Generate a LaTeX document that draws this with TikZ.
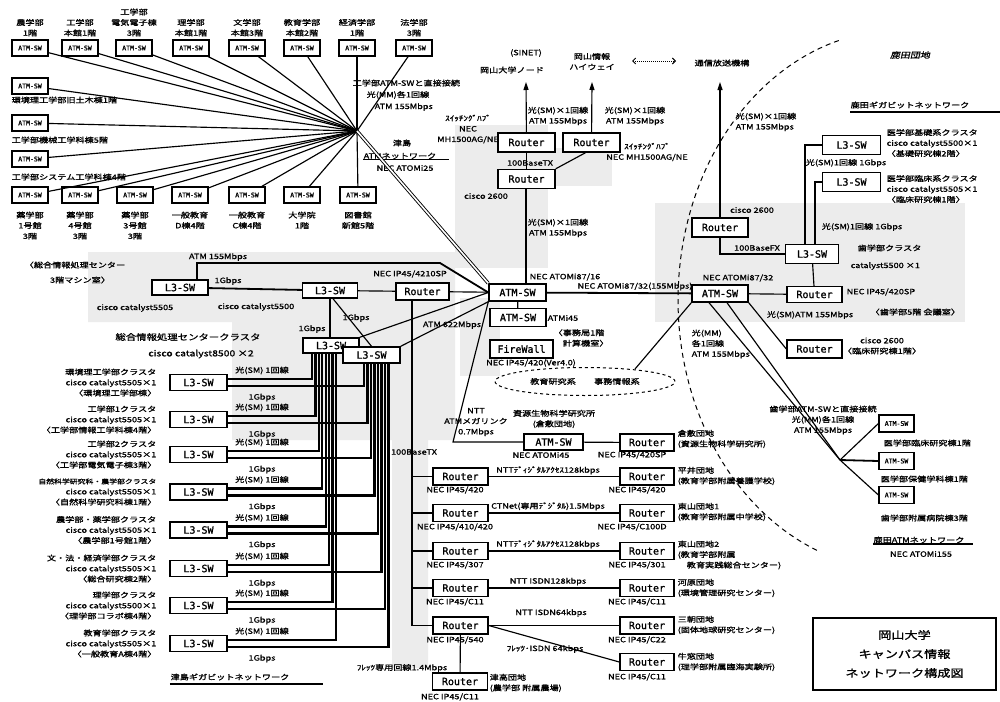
\documentclass[tikz,border=0pt]{standalone}
\usepackage{fontspec}
\setmainfont{Noto Sans CJK JP}
\newfontfamily\jpf{Noto Sans CJK JP}[FakeStretch=1.25,FakeBold=1.3]
\newfontfamily\jpif{Noto Sans CJK JP}[FakeStretch=1.25,FakeSlant=0.22,FakeBold=1.3]
\newfontfamily\monof{DejaVu Sans Mono}[FakeBold=1.2]
\usetikzlibrary{shapes.geometric,arrows.meta}
\newcommand\lblf{\jpf\fontsize{7.3}{10.5}\selectfont}
\newcommand\boxf{\monof\fontsize{10}{11}\selectfont}
\newcommand\sboxf{\monof\fontsize{6.5}{7}\selectfont}
\newcommand\ttlf{\jpf\fontsize{10.5}{19}\selectfont}
\begin{document}
\begin{tikzpicture}[x=1pt,y=-1pt,
  bx/.style={draw,line width=1.4pt,fill=white,font=\boxf,inner sep=0pt,minimum width=#1,minimum height=17pt},
  bx/.default=56pt,
  sb/.style={draw,line width=1.2pt,fill=white,font=\sboxf,inner sep=0pt,minimum width=36pt,minimum height=16pt},
  lb/.style={font=\lblf,inner sep=0.5pt,align=center},
  lbl/.style={lb,align=left,anchor=west},
  lbr/.style={lb,align=right,anchor=east},
  ln/.style={line width=1.15pt},
  thk/.style={line width=2.2pt},
  shd/.style={fill=gray!15}]
\fill[white] (0,0) rectangle (1000,701);
\useasboundingbox (0,0) rectangle (1000,701);
% shaded areas
\fill[shd] (88,252) -- (455,252) -- (455,440) -- (428,440) -- (428,668) -- (392,668) -- (392,440) -- (232,440) -- (232,322) -- (88,322) -- cycle;
\fill[shd] (455,125) rectangle (548,268);
\fill[shd] (548,148) rectangle (612,186);
\fill[shd] (460,298) rectangle (500,376);
\fill[shd] (655,203) rectangle (965,322);

% ---------- Tsushima ATM network (top left)
\foreach \i/\x in {1/30,2/80,3/134,4/191,5/247,6/302,7/357,8/414} {\node[sb] (t\i) at (\x,48) {ATM-SW};}
\node[sb] (l1) at (30,86) {ATM-SW};
\node[sb] (l2) at (30,123) {ATM-SW};
\node[sb] (l3) at (30,159) {ATM-SW};
\foreach \i/\x in {1/30,2/80,3/135,4/190,5/247,6/302,7/358} {\node[sb] (b\i) at (\x,195) {ATM-SW};}
\coordinate (hub) at (357,131);
\foreach \n in {t1,t2,t3,t4,t5,t6,t7,t8,l1,l2,l3,b1,b2,b3,b4,b5,b6,b7} {\draw[ln] (\n) -- (hub);}
\node[lb,anchor=south] (tl1) at (30,37) {農学部\\1階};
\node[lb,anchor=south] (tl2) at (80,37) {工学部\\本館1階};
\node[lb,anchor=south] (tl3) at (134,37) {工学部\\電気電子棟\\3階};
\node[lb,anchor=south] (tl4) at (191,37) {理学部\\本館1階};
\node[lb,anchor=south] (tl5) at (247,37) {文学部\\本館3階};
\node[lb,anchor=south] (tl6) at (302,37) {教育学部\\本館2階};
\node[lb,anchor=south] (tl7) at (357,37) {経済学部\\1階};
\node[lb,anchor=south] (tl8) at (414,37) {法学部\\3階};
\node[lbl] (ll1) at (11,100) {環境理工学部旧土木棟1階};
\node[lbl] (ll2) at (11,140) {工学部機械工学科棟5階};
\node[lbl] (ll3) at (11,177) {工学部システム工学科棟4階};
\node[lb,anchor=north] (bl1) at (30,211) {薬学部\\1号館\\3階};
\node[lb,anchor=north] (bl2) at (80,211) {薬学部\\4号館\\3階};
\node[lb,anchor=north] (bl3) at (135,211) {薬学部\\3号館\\3階};
\node[lb,anchor=north] (bl4) at (190,211) {一般教育\\D棟4階};
\node[lb,anchor=north] (bl5) at (247,211) {一般教育\\C棟4階};
\node[lb,anchor=north] (bl6) at (302,211) {大学院\\1階};
\node[lb,anchor=north] (bl7) at (358,211) {図書館\\新館5階};
\node[lbl] (hl1) at (352,83) {工学部ATM-SWと直接接続};
\node[lbl] (hl2) at (366,95) {光(MM)各1回線};
\node[lbl] (hl3) at (374,107) {ATM 155Mbps};
\node[lb] (tsa) at (402,143) {津島};
\node[lb] (tsb) at (400,156) {ATMネットワーク};
\node[lb] (tsc) at (405,168) {NEC ATOMi25};
\draw[ln] (tsb.south west) -- ([xshift=12pt]tsb.south east);

% ---------- centre
\node[bx=57pt] (atm) at (517.5,292.5) {ATM-SW};
\node[bx=56pt,minimum height=18pt] (atm2) at (518,317.5) {ATM-SW};
\node[bx=63pt,minimum height=18pt] (fw) at (521.5,349) {FireWall};
\node[bx=57pt,minimum height=19pt] (rt1) at (526.5,142.5) {Router};
\node[bx=57pt,minimum height=19pt] (rt2) at (591.5,142.5) {Router};
\node[bx=57pt,minimum height=19pt] (rt3) at (526.5,179) {Router};
\node[bx=56pt,minimum height=19pt] (rtr) at (720,227.5) {Router};
\draw[double,double distance=1.6pt,line width=0.9pt] (hub) -- (atm.north west);
\coordinate (sinet) at (526,82);
\coordinate (hwy) at (592,82);
\coordinate (tao) at (720,82);
\draw[ln,-{Triangle[length=8pt,width=5pt]}] (rt1) -- (sinet);
\draw[ln,-{Triangle[length=8pt,width=5pt]}] (rt2) -- (hwy);
\draw[ln,-{Triangle[length=8pt,width=5pt]}] (rtr) -- (tao);
\node[lb] (sn1) at (526,53) {(SINET)};
\node[lb] (sn2) at (512,70) {岡山大学ノード};
\node[lb] (hw1) at (592,61.5) {岡山情報\\ハイウェイ};
\node[lb] (tao1) at (722,63) {通信放送機構};
\coordinate (dl) at (632,61);
\coordinate (dr) at (676,61);
\draw[densely dotted,line width=1pt,{Straight Barb[length=3pt]}-{Straight Barb[length=3pt]}] (dl) -- (dr);
\draw[ln] (rt1) -- (rt3);
\draw[ln] ([xshift=-6pt]rt2.south) -- (rt3.north east);
\draw[ln] (rt3.south -| 526,0) -- (atm.north -| 526,0);
\node[lb] (r1a) at (558,116) {光(SM)×1回線\\ATM 155Mbps};
\node[lb] (r2a) at (635,116) {光(SM)×1回線\\ATM 155Mbps};
\node[lb] (r1b) at (468,129) {ｽｲｯﾁﾝｸﾞﾊﾌﾞ\\NEC\\MH1500AG/NE};
\node[lb] (r2b) at (647,152) {ｽｲｯﾁﾝｸﾞﾊﾌﾞ\\NEC MH1500AG/NE};
\node[lb] (r3a) at (530,163) {100BaseTX};
\node[lb] (r3b) at (486,196) {cisco 2600};
\node[lb] (r3c) at (558,228) {光(SM)×1回線\\ATM 155Mbps};
\node[lb] (atl) at (565,277) {NEC ATOMi87/16};
\draw[ln] (atm) -- (atm2);
\node[lbl] (a2l) at (547,318) {ATMi45};
\node[lbl] (a2m) at (553,338) {〈事務局1階\\　計算機室〉};
\node[lb] (fwl) at (531,363) {NEC IP45/420(Ver4.0)};
\node[draw,dashed,line width=1pt,ellipse,minimum width=180pt,minimum height=28pt,inner sep=0pt,font=\lblf] (ell) at (585,381.5) {教育研究系\hspace{2.5em}事務情報系};
\coordinate (ellc) at (635,369);

% right ATM
\node[bx=56pt] (atmr) at (720,293.5) {ATM-SW};
\draw[line width=1.8pt] (atm) -- (atmr);
\node[lb,anchor=south] (lk1) at (635,291) {NEC ATOMi87/32(155Mbps)};
\node[lb] (atrl) at (738,278) {NEC ATOMi87/32};
\draw[ln] (atmr.south west) -- (ellc);

% ---------- Shikata (right)
\node[bx=55pt,minimum height=16pt] (rrt) at (814.5,294.5) {Router};
\node[bx=55pt,minimum height=18pt] (rrl) at (814.5,349) {Router};
\node[bx=53pt,minimum height=19pt] (sw3) at (812,254) {L3-SW};
\node[bx=58pt,minimum height=19pt] (sw1) at (851.5,145) {L3-SW};
\node[bx=58pt,minimum height=19pt] (sw2) at (851.5,182) {L3-SW};
\draw[thk] ([xshift=-7pt]sw3.north) |- (sw1.west);
\draw[thk] ([xshift=3pt]sw3.north) |- (sw2.west);
\draw[ln] (rtr.south) |- (sw3.west);
\draw[ln] (sw3) -- (rrt);
\draw[ln] (atmr) -- (rrt);
\draw[ln] (atmr.south east) -- (rrl.west);
\node[lb] (fx) at (757,248) {100BaseFX};
\node[lb] (ctr) at (752,210) {cisco 2600};
\node[lbl] (tl) at (735,122) {光(SM)×1回線\\ATM 155Mbps};
\node[lb,font=\jpif\fontsize{8}{10}\selectfont] (shk) at (910,55) {鹿田団地};
\node[lb] (gig) at (910,105) {鹿田ギガビットネットワーク};
\coordinate (gigend) at (1000,112);
\draw[line width=1.3pt] (gig.south west |- gigend) -- (gigend);
\node[lbl] (s1l) at (886,143) {医学部基礎系クラスタ\\cisco catalyst5500×1\\〈基礎研究棟2階〉};
\node[lbl] (s2l) at (886,189) {医学部臨床系クラスタ\\cisco catalyst5505×1\\〈臨床研究棟1階〉};
\node[lb] (s1g) at (846,163) {光(SM)1回線 1Gbps};
\node[lb] (s2g) at (862,227) {光(SM)1回線 1Gbps};
\node[lbl] (s3l) at (857,248) {歯学部クラスタ};
\node[lbl] (s3m) at (850,266) {catalyst5500 ×1};
\node[lbl] (rrtl) at (846,292) {NEC IP45/420SP};
\node[lbl] (rrtm) at (870,312) {〈歯学部5階 会議室〉};
\node[lb] (rrll) at (882,346) {cisco 2600\\〈臨床研究棟1階〉};
\node[lb] (rrla) at (810,315) {光(SM)ATM 155Mbps};
\node[lbl] (mml) at (691,344) {光(MM)\\各1回線\\ATM 155Mbps};
\draw[dash pattern=on 5pt off 4pt,line width=1pt] plot[domain=112:255,samples=70] ({900+222*cos(\x)},{300+270*sin(\x)});

% Shikata ATM
\coordinate (jn) at (840,460);
\node[sb,minimum width=35pt,minimum height=17pt] (ma1) at (896.5,423.5) {ATM-SW};
\node[sb,minimum width=35pt,minimum height=17pt] (ma2) at (896.5,461) {ATM-SW};
\node[sb,minimum width=35pt,minimum height=17pt] (ma3) at (896.5,495) {ATM-SW};
\draw[ln] ([xshift=-11pt]atmr.south) -- (jn);
\draw[ln] ([xshift=7pt]atmr.south) -- (jn);
\draw[ln] (jn) -- (ma1.west);
\draw[line width=1.8pt] (jn) -- (ma2.west);
\draw[ln] (jn) -- (ma3.west);
\node[lb] (dir) at (823,420) {歯学部ATM-SWと直接接続\\光(MM)各1回線\\ATM 155Mbps};
\node[lbl] (m1l) at (883,443) {医学部臨床研究棟1階};
\node[lbl] (m2l) at (880,479) {医学部保健学科棟1階};
\node[lbl] (m3l) at (880,518) {歯学部附属病院棟3階};
\node[lb] (san) at (919,540) {鹿田ATMネットワーク};
\draw[ln] (san.south west) -- ([xshift=8pt]san.south east);
\node[lb] (sanm) at (921,554) {NEC ATOMi155};

% title
\node[draw,line width=1.2pt,minimum width=183pt,minimum height=72pt,font=\ttlf,align=center] (title) at (904.5,654) {岡山大学\\キャンパス情報\\ネットワーク構成図};

% ---------- Kurashiki & remote sites
\coordinate (kc) at (453,442);
\node[bx=59pt,minimum height=16pt] (katm) at (553.5,442) {ATM-SW};
\node[bx=54pt] (krt) at (647,442.5) {Router};
\draw[ln] (atm.south west) -- (kc) -- (katm);
\draw[ln] (katm) -- (krt);
\node[lb] (kl1) at (476,422) {NTT\\ATMメガリンク\\0.7Mbps};
\node[lb] (kl2) at (554,419) {資源生物科学研究所\\(倉敷団地)};
\node[lb] (kl3) at (541,455) {NEC ATOMi45};
\node[lb] (kl4) at (632,455) {NEC IP45/420SP};
\node[lbl] (kl5) at (677,439) {倉敷団地\\(資源生物科学研究所)};

\node[bx=53pt] (rte) at (422.5,291.5) {Router};
\draw[ln] (rte) -- (atm);
\coordinate (busend) at (412,626);
\draw[ln] (rte.south -| busend) -- (busend);
\node[lb] (btx) at (414,452) {100BaseTX};

\node[bx=55pt] (lr1) at (460.5,476.5) {Router};
\node[bx=55pt] (lr2) at (460.5,513) {Router};
\node[bx=55pt] (lr3) at (460.5,551) {Router};
\node[bx=55pt] (lr4) at (460.5,588) {Router};
\node[bx=55pt] (lr5) at (460.5,625.5) {Router};
\node[bx=55pt] (br) at (460,681.5) {Router};
\node[bx=54pt] (rr1) at (647,476.5) {Router};
\node[bx=54pt] (rr2) at (647,513) {Router};
\node[bx=54pt] (rr3) at (647,551) {Router};
\node[bx=54pt] (rr4) at (647,588) {Router};
\node[bx=54pt] (rr5) at (647,625.5) {Router};
\node[bx=54pt] (rr6) at (647,662) {Router};
\foreach \i in {1,2,3,4,5} {\draw[ln] (lr\i.west -| busend) -- (lr\i.west);}
\draw[line width=1.7pt] (lr1) -- (rr1);
\draw[line width=1.7pt] (lr2) -- (rr2);
\draw[ln] (lr3) -- (rr3);
\draw[ln] (lr4) -- (rr4);
\draw[ln] (lr5) -- (rr5);
\draw[ln] (lr5.east) -- (rr6.west);
\draw[ln] (lr5) -- (br);
\node[lb,anchor=south] (k1) at (548,475) {NTTﾃﾞｨｼﾞﾀﾙｱｸｾｽ128kbps};
\node[lb,anchor=south] (k2) at (548,511) {CTNet(専用ﾃﾞｼﾞﾀﾙ)1.5Mbps};
\node[lb,anchor=south] (k3) at (548,549) {NTTﾃﾞｨｼﾞﾀﾙｱｸｾｽ128kbps};
\node[lb,anchor=south] (k4) at (548,586) {NTT ISDN128kbps};
\node[lb] (k5) at (551,613) {NTT ISDN64kbps};
\node[lb] (k6) at (545,649) {ﾌﾚｯﾂ･ISDN 64kbps};
\node[lb] (k7) at (402,668) {ﾌﾚｯﾂ専用回線1.4Mbps};
\node[lb] (q1) at (455,490) {NEC IP45/420};
\node[lb] (q2) at (455,527) {NEC IP45/410/420};
\node[lb] (q3) at (455,565) {NEC IP45/307};
\node[lb] (q4) at (455,602) {NEC IP45/C11};
\node[lb] (q5) at (455,640) {NEC IP45/540};
\node[lb] (q6) at (450,697) {NEC IP45/C11};
\node[lb] (p1) at (637,490) {NEC IP45/420};
\node[lb] (p2) at (632,527) {NEC IP45/C100D};
\node[lb] (p3) at (637,565) {NEC IP45/301};
\node[lb] (p4) at (637,602) {NEC IP45/C11};
\node[lb] (p5) at (637,640) {NEC IP45/C22};
\node[lb] (p6) at (637,677) {NEC IP45/C11};
\node[lbl] (g1) at (677,476) {平井団地\\(教育学部附属養護学校)};
\node[lbl] (g2) at (677,512) {東山団地1\\(教育学部附属中学校)};
\node[lbl] (g3) at (677,555) {東山団地2\\(教育学部附属\\　教育実践総合センター)};
\node[lbl] (g4) at (677,588) {河原団地\\(環境管理研究センター)};
\node[lbl] (g5) at (677,625) {三朝団地\\(固体地球研究センター)};
\node[lbl] (g6) at (677,662) {牛窓団地\\(理学部附属臨海実験所)};
\node[lbl] (g7) at (489,683) {津高団地\\(農学部 附属農場)};

% ---------- Tsushima gigabit cluster (left)
\node[bx=56pt,minimum height=15pt] (sw0) at (180,287.5) {L3-SW};
\node[bx=55pt,minimum height=15pt] (swc) at (330,290.5) {L3-SW};
\node[bx=56pt,minimum height=15pt] (swa) at (331,345.5) {L3-SW};
\node[bx=57pt,minimum height=16pt] (swb) at (371.5,355) {L3-SW};
\coordinate (dup) at (197,263);
\coordinate (dcn) at (440,263);
\draw[line width=1.8pt] (dup |- sw0.north) -- (dup) -- (dcn) -- (atm.west);
\draw[line width=1.8pt] (sw0) -- (swc);
\draw[ln] (swc) -- (rte);
\draw[thk] (swc.south) -- (swc.south |- swa.north);
\draw[ln] ([xshift=3pt]swc.south) -- (swb.north);
\draw[ln] (swa.north east) -- (atm.west);
\draw[ln] (swb.north east) -- (atm.south west);
\node[lb] (a155) at (218,257) {ATM 155Mbps};
\node[lb] (g1g) at (228,281) {1Gbps};
\node[lb] (ipl) at (410,274) {NEC IP45/4210SP};
\node[lb] (cg1) at (312,329) {1Gbps};
\node[lb] (cg2) at (356,318) {1Gbps};
\node[lb] (a622) at (452,325) {ATM 622Mbps};
\node[lb] (cen1) at (75,265) {〈総合情報処理センター};
\node[lb] (cen2) at (80,280) {3階マシン室〉};
\node[lb] (c55a) at (135,308) {cisco catalyst5505};
\node[lb] (c55b) at (256,307) {cisco catalyst5500};
\node[lb,font=\jpf\fontsize{8.3}{11}\selectfont] (cl1) at (188,337) {総合情報処理センタークラスタ};
\node[lb,font=\jpf\fontsize{8.3}{11}\selectfont] (cl2) at (201,354) {cisco catalyst8500 ×2};

\foreach \i/\y in {1/382.5,2/419.5,3/454.5,4/492,5/530,6/568.5,7/605.5,8/643.5} {
  \node[bx=57pt,minimum height=16pt] (ls\i) at (198.5,\y) {L3-SW};
  \node[lb] (ua\i) at (262,\y-12) {光(SM) 1回線};
  \node[lb] (ub\i) at (262,\y+15) {1Gbps};
}
\foreach \i in {1,...,8} {
  \pgfmathsetmacro\xa{312+(\i-1)*3.4}
  \pgfmathsetmacro\xb{364+(\i-1)*3.5}
  \draw[thk] ([yshift=3.5pt]ls\i.east) -| (swa.south -| \xa,0);
  \draw[thk] ([yshift=-3.5pt]ls\i.east) -| (swb.south -| \xb,0);
}
\node[lbr] (rl1) at (157,382.5) {環境理工学部クラスタ\\cisco catalyst5505×1\\〈環境理工学部棟〉};
\node[lbr] (rl2) at (157,419.5) {工学部1クラスタ\\cisco catalyst5505×1\\〈工学部情報工学科棟4階〉};
\node[lbr] (rl3) at (157,454.5) {工学部2クラスタ\\cisco catalyst5505×1\\〈工学部電気電子棟3階〉};
\node[lbr] (rl4) at (157,492) {{\jpf\fontsize{6.3}{10.5}\selectfont 自然科学研究科・農学部クラスタ}\\cisco catalyst5505×1\\〈自然科学研究科棟1階〉};
\node[lbr] (rl5) at (157,530) {農学部・薬学部クラスタ\\cisco catalyst5505×1\\〈農学部1号館1階〉};
\node[lbr] (rl6) at (157,568.5) {文・法・経済学部クラスタ\\cisco catalyst5505×1\\〈総合研究棟2階〉};
\node[lbr] (rl7) at (157,605.5) {理学部クラスタ\\cisco catalyst5500×1\\〈理学部コラボ棟4階〉};
\node[lbr] (rl8) at (157,643.5) {教育学部クラスタ\\cisco catalyst5505×1\\〈一般教育A棟4階〉};
\node[lb] (tgn) at (230,677) {津島ギガビットネットワーク};
\coordinate (tgend) at (323,684);
\draw[line width=1.3pt] (tgn.south west |- tgend) -- (tgend);
\end{tikzpicture}
\end{document}
